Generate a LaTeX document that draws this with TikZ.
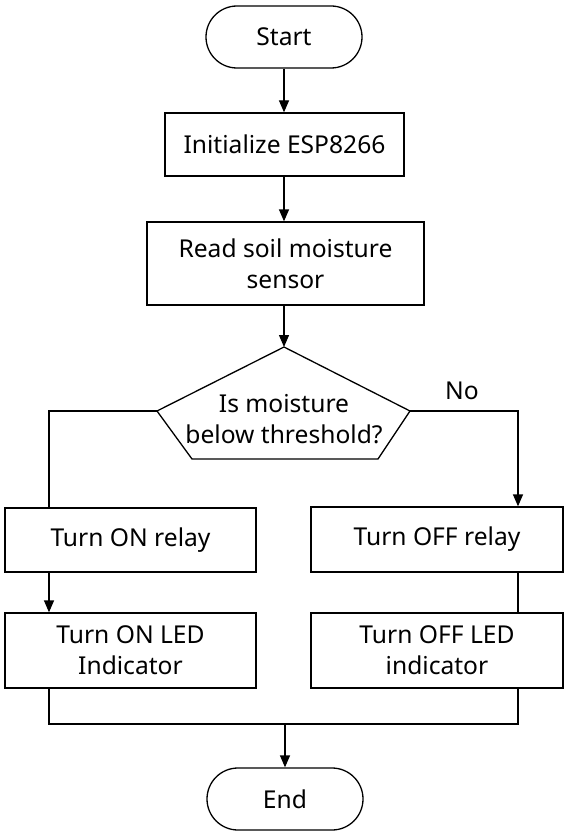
\documentclass[tikz,border=0pt]{standalone}
\usepackage{fontspec}
\setmainfont{Noto Sans}
\usetikzlibrary{arrows.meta}
\begin{document}
\begin{tikzpicture}[x=1pt,y=-1pt,
  txt/.style={font=\fontsize{24.6}{31}\selectfont, align=center, text=black},
  base/.style={txt, draw, line width=1.3pt, inner sep=0pt, fill=white},
  stadium/.style={base, rounded corners=31pt, minimum width=156pt, minimum height=62pt},
  procbox/.style={base},
  conn/.style={line width=1.3pt},
  arrow/.style={conn, -{Triangle[length=12pt,width=10pt]}}]
\useasboundingbox (0,0) rectangle (567,832);
\fill[white] (0,0) rectangle (567,832);

\node[stadium] (start) at (284,37) {Start};
\node[procbox, minimum width=239pt, minimum height=63pt] (init) at (284.5,144.5) {Initialize ESP8266};
\node[procbox, minimum width=277pt, minimum height=83pt] (read) at (285.5,263.5) {Read soil moisture\\sensor};

\coordinate (dT) at (284,347);
\coordinate (dR) at (410,411);
\coordinate (dBR) at (378,459);
\coordinate (dBL) at (192,459);
\coordinate (dL) at (157,411);
\draw[conn, line join=miter] (dT) -- (dR) -- (dBR) -- (dBL) -- (dL) -- cycle;
\node[txt] (dec) at (284,419) {Is moisture\\below threshold?};

\node[procbox, minimum width=251pt, minimum height=64pt] (onrelay) at (130.5,540) {Turn ON relay};
\node[procbox, minimum width=251pt, minimum height=75pt] (onled) at (130.5,650.5) {Turn ON LED\\Indicator};
\node[procbox, minimum width=252pt, minimum height=65pt] (offrelay) at (437,539.5) {Turn OFF relay};
\node[procbox, minimum width=252pt, minimum height=75pt] (offled) at (437,650.5) {Turn OFF LED\\indicator};
\node[stadium] (end) at (285,799) {End};

\node[txt] (no) at (462,391) {No};

\coordinate (lcol) at (49,411);
\coordinate (rcol) at (518,411);
\coordinate (merge) at (285,724);

\draw[arrow] (start.south) -- (start.south |- init.north);
\draw[arrow] (init.south -| start) -- (start |- read.north);
\draw[arrow] (start |- read.south) -- (dT);
\draw[conn] (dL) -- (lcol) -- (lcol |- onrelay.north);
\draw[arrow] (lcol |- onrelay.south) -- (lcol |- onled.north);
\draw[arrow] (dR) -- (rcol) -- (rcol |- offrelay.north);
\draw[conn] (rcol |- offrelay.south) -- (rcol |- offled.north);
\draw[conn] (lcol |- onled.south) -- (lcol |- merge) -- (rcol |- merge) -- (rcol |- offled.south);
\draw[arrow] (merge) -- (end.north);
\end{tikzpicture}
\end{document}
